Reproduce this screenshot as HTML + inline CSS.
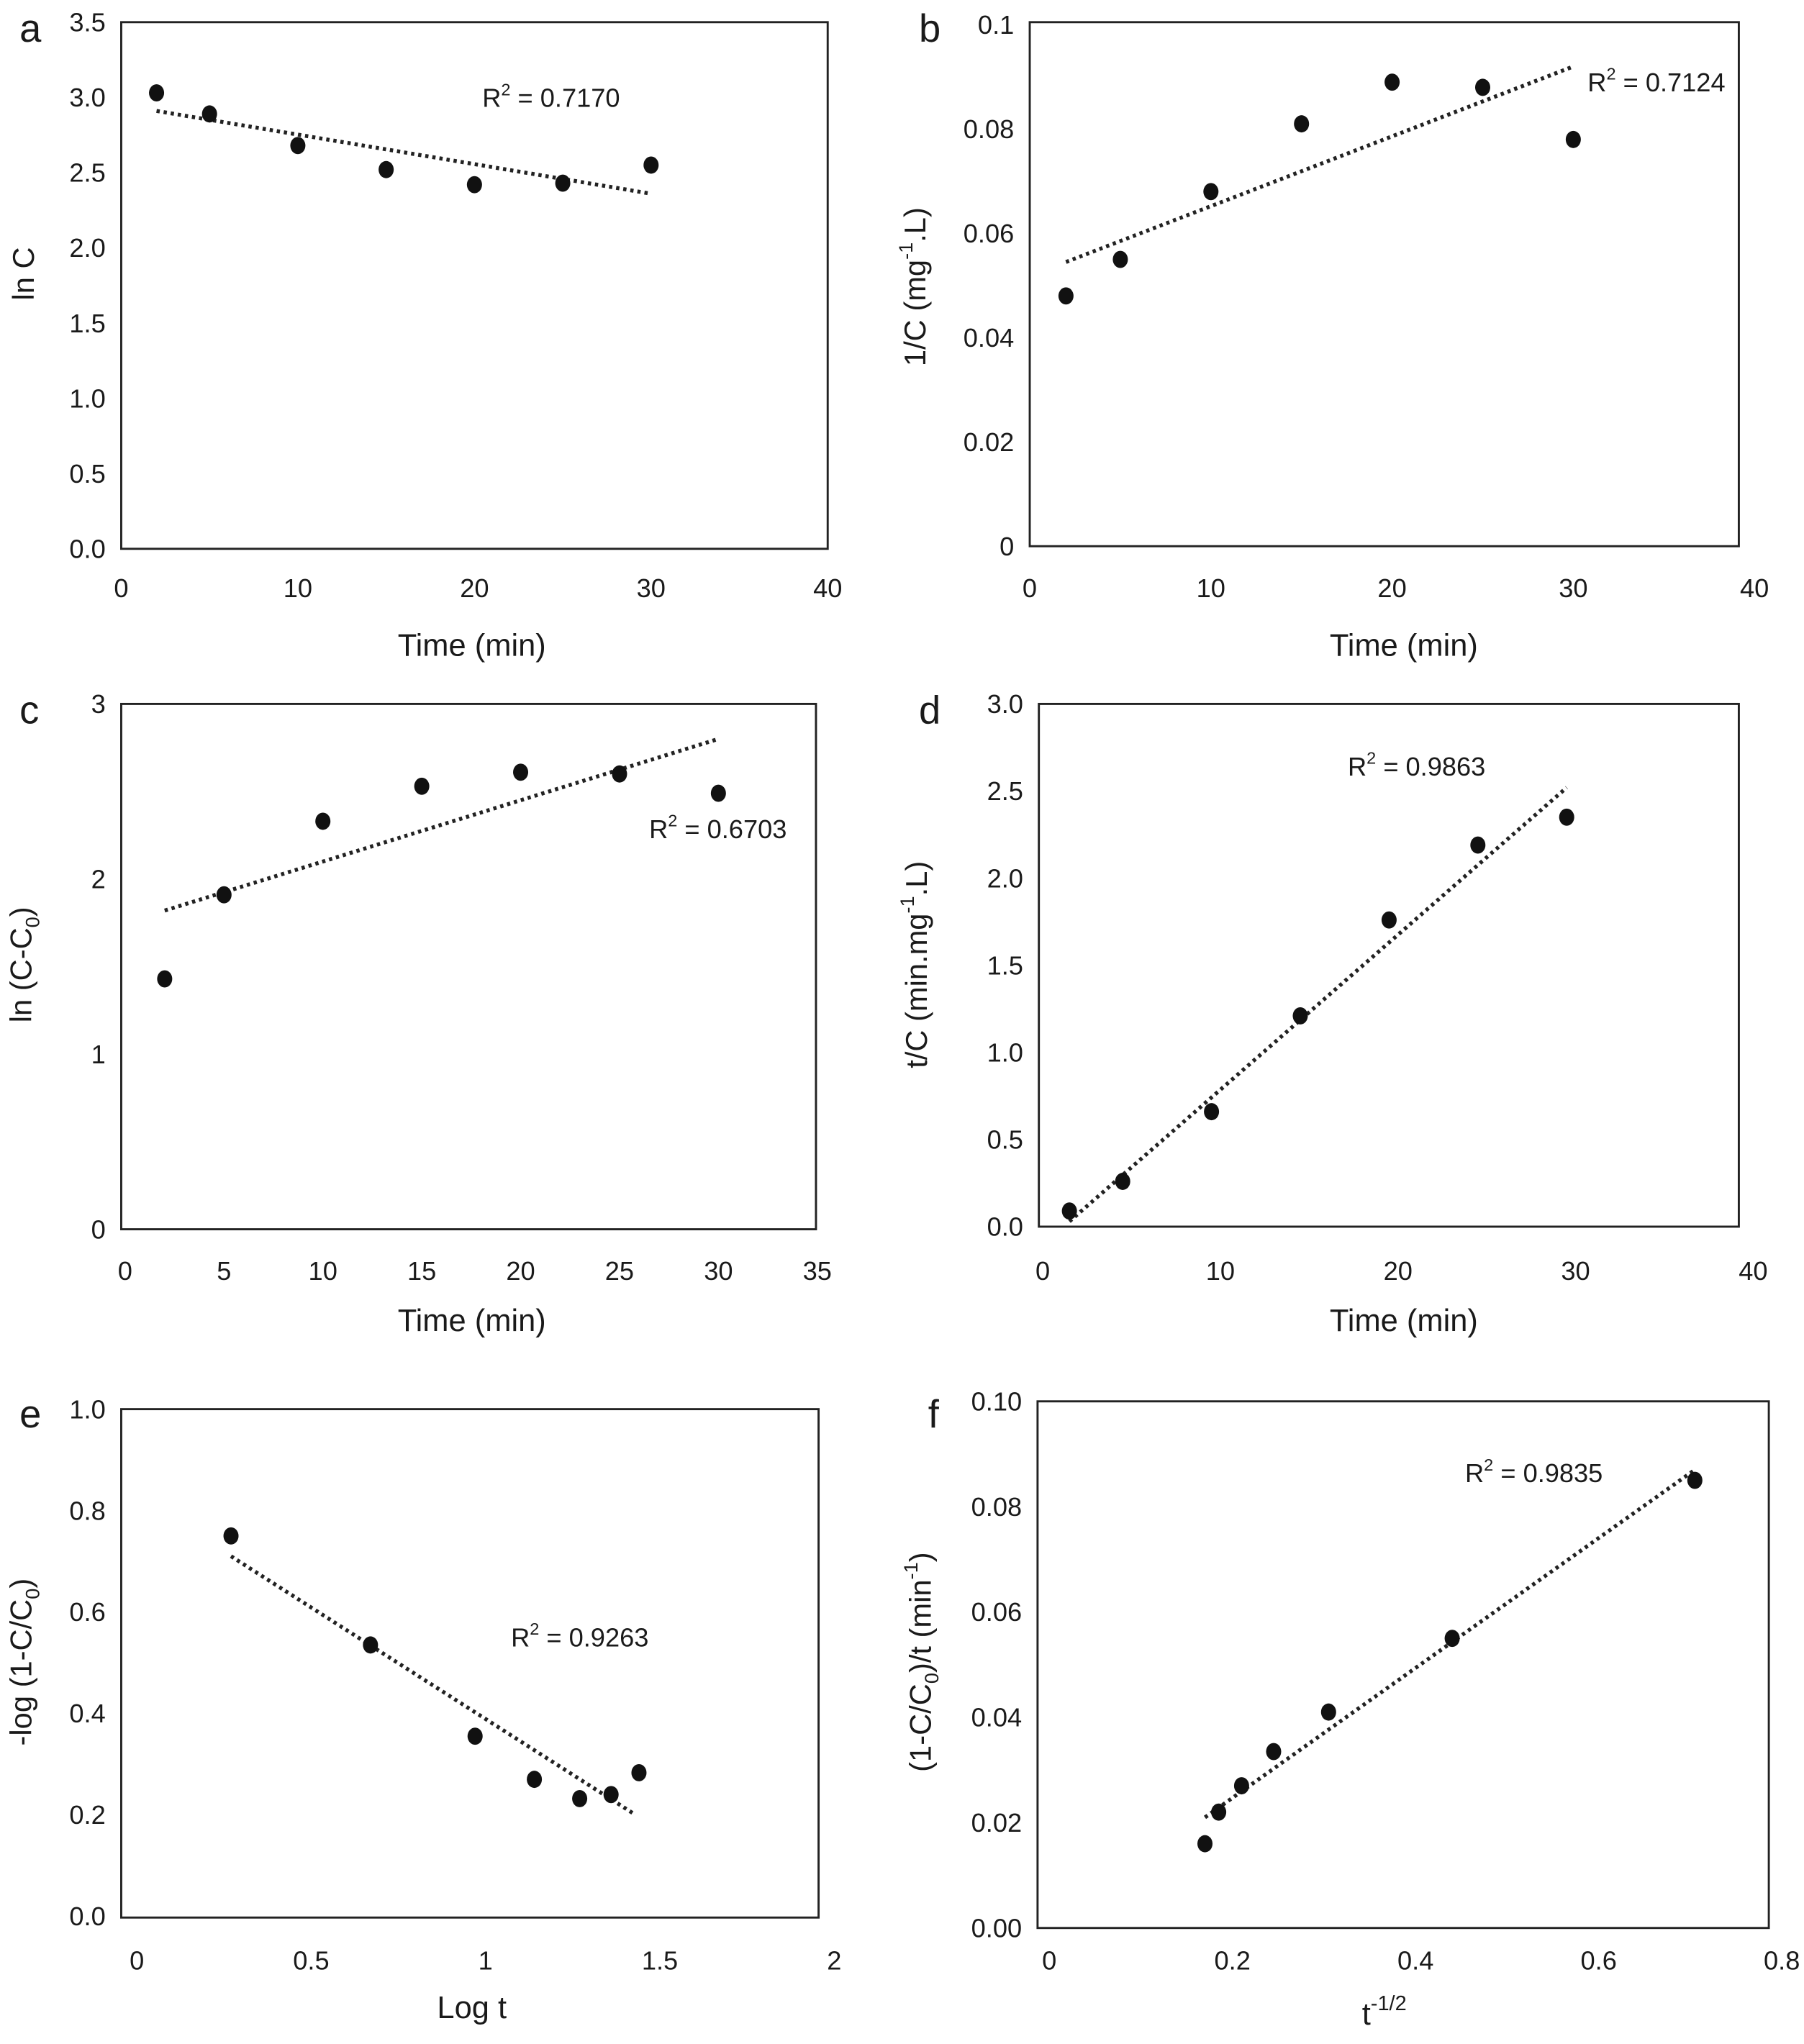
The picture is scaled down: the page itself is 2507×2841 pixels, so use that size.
<!DOCTYPE html>
<html><head><meta charset="utf-8"><style>
html,body{margin:0;padding:0;background:#fff}
svg{display:block}
text{font-family:"Liberation Sans",Arial,sans-serif;fill:#1a1a1a}
</style></head><body>
<svg id="fig" width="2507" height="2841" viewBox="0 0 1384 1568" preserveAspectRatio="none" xmlns="http://www.w3.org/2000/svg"></svg>
<script>
// Panel data (top-level arrays)
const aX=[2,5,10,15,20,25,30];
const aY=[3.03,2.89,2.68,2.52,2.42,2.43,2.55];
const aTrend=[[2,2.91],[30,2.36]];
const aXTicks=["0","10","20","30","40"];
const aYTicks=["0.0","0.5","1.0","1.5","2.0","2.5","3.0","3.5"];

const bX=[2,5,10,15,20,25,30];
const bY=[0.048,0.055,0.068,0.081,0.089,0.088,0.078];
const bTrend=[[2,0.0545],[30,0.092]];
const bXTicks=["0","10","20","30","40"];
const bYTicks=["0","0.02","0.04","0.06","0.08","0.1"];

const cX=[2,5,10,15,20,25,30];
const cY=[1.43,1.91,2.33,2.53,2.61,2.60,2.49];
const cTrend=[[2,1.82],[30,2.80]];
const cXTicks=["0","5","10","15","20","25","30","35"];
const cYTicks=["0","1","2","3"];

const dX=[1.5,4.5,9.5,14.5,19.5,24.5,29.5];
const dY=[0.09,0.26,0.66,1.21,1.76,2.19,2.35];
const dTrend=[[1.5,0.03],[29.5,2.52]];
const dXTicks=["0","10","20","30","40"];
const dYTicks=["0.0","0.5","1.0","1.5","2.0","2.5","3.0"];

const eX=[0.27,0.67,0.97,1.14,1.27,1.36,1.44];
const eY=[0.75,0.535,0.355,0.27,0.232,0.24,0.283];
const eTrend=[[0.27,0.71],[1.43,0.20]];
const eXTicks=["0","0.5","1","1.5","2"];
const eYTicks=["0.0","0.2","0.4","0.6","0.8","1.0"];

const fX=[0.17,0.185,0.21,0.245,0.305,0.44,0.705];
const fY=[0.016,0.022,0.027,0.0335,0.041,0.055,0.085];
const fTrend=[[0.17,0.021],[0.705,0.087]];
const fXTicks=["0","0.2","0.4","0.6","0.8"];
const fYTicks=["0.00","0.02","0.04","0.06","0.08","0.10"];

const NS="http://www.w3.org/2000/svg";
const svg=document.getElementById('fig');
function mk(tag,attrs,parent){const e=document.createElementNS(NS,tag);for(const k in attrs)e.setAttribute(k,attrs[k]);(parent||svg).appendChild(e);return e;}

// ytitle parts: [text, shift] shift: 0 normal, 1 subscript, -1 superscript
const panels=[
 {id:'a',letter:[15,22],box:[93,17,635,421],xm:[93,635],xd:[0,40],ym:[421,17],yd:[0,3.5],xs:aX,ys:aY,tr:aTrend,xt:aXTicks,yt:aYTicks,xly:451,xtitle:["Time (min)",362,495],ytitle:[[["ln C",0]],18,210],r2:["0.7170",370,75]},
 {id:'b',letter:[705,22],box:[790,17,1334,419],xm:[790,1346],xd:[0,40],ym:[419,19],yd:[0,0.1],xs:bX,ys:bY,tr:bTrend,xt:bXTicks,yt:bYTicks,xly:451,xtitle:["Time (min)",1077,495],ytitle:[[["1/C (mg",0],["-1",-1],[".L)",0]],702,220],r2:["0.7124",1218,63]},
 {id:'c',letter:[15,545],box:[93,540,626,943],xm:[96,627],xd:[0,35],ym:[943,540],yd:[0,3],xs:cX,ys:cY,tr:cTrend,xt:cXTicks,yt:cYTicks,xly:975,xtitle:["Time (min)",362,1013],ytitle:[[["ln (C-C",0],["0",1],[")",0]],16,740],r2:["0.6703",498,636]},
 {id:'d',letter:[705,545],box:[797,540,1334,941],xm:[800,1345],xd:[0,40],ym:[941,540],yd:[0,3],xs:dX,ys:dY,tr:dTrend,xt:dXTicks,yt:dYTicks,xly:975,xtitle:["Time (min)",1077,1013],ytitle:[[["t/C (min.mg",0],["-1",-1],[".L)",0]],703,740],r2:["0.9863",1034,588]},
 {id:'e',letter:[15,1085],box:[93,1081,628,1471],xm:[105,640],xd:[0,2],ym:[1470,1081],yd:[0,1],xs:eX,ys:eY,tr:eTrend,xt:eXTicks,yt:eYTicks,xly:1504,xtitle:["Log t",362,1540],ytitle:[[["-log (1-C/C",0],["0",1],[")",0]],16,1275],r2:["0.9263",392,1256]},
 {id:'f',letter:[712,1085],box:[796,1075,1357,1479],xm:[805,1367],xd:[0,0.8],ym:[1479,1075],yd:[0,0.1],xs:fX,ys:fY,tr:fTrend,xt:fXTicks,yt:fYTicks,xly:1504,xtitle:["t",1062,1545],ytitle:[[["(1-C/C",0],["0",1],[")/t (min",0],["-1",-1],[")",0]],706,1275],r2:["0.9835",1124,1130]}
];

panels.forEach(p=>{
 const g=mk('g',{});
 
 
 const sx=v=>p.xm[0]+(v-p.xd[0])/(p.xd[1]-p.xd[0])*(p.xm[1]-p.xm[0]);
 const sy=v=>p.ym[0]+(v-p.yd[0])/(p.yd[1]-p.yd[0])*(p.ym[1]-p.ym[0]);
 const lt=mk('text',{x:p.letter[0],y:p.letter[1]+10,'font-size':30},g);lt.textContent=p.id;
 
 
 const b=p.box;
 const r=mk('rect',{x:b[0],y:b[1],width:b[2]-b[0],height:b[3]-b[1],fill:'none',stroke:'#222','stroke-width':1.6},g);
 
 
 p.yt.forEach((t,i)=>{
  const v=p.yd[0]+i*(p.yd[1]-p.yd[0])/(p.yt.length-1);
  const tx=mk('text',{x:b[0]-12,y:sy(v)+7,'font-size':20,'text-anchor':'end'},g);tx.textContent=t;
  
  
 });
 p.xt.forEach((t,i)=>{
  const v=p.xd[0]+i*(p.xd[1]-p.xd[0])/(p.xt.length-1);
  const tx=mk('text',{x:sx(v),y:p.xly+7,'font-size':20,'text-anchor':'middle'},g);tx.textContent=t;
  
  
 });
 const xt=mk('text',{x:p.xtitle[1],y:p.xtitle[2]+8,'font-size':24,'text-anchor':'middle'},g);
 xt.textContent=p.xtitle[0];
 if(p.id==='f'){const s=mk('tspan',{dy:-11,'font-size':16},xt);s.textContent='-1/2';}
 
 
 const yt=mk('text',{transform:`translate(${p.ytitle[1]+8},${p.ytitle[2]}) rotate(-90)`,'font-size':23,'text-anchor':'middle'},g);
 let cur=0;
 p.ytitle[0].forEach(part=>{
  const target=part[1]===1?6:(part[1]===-1?-10:0);
  const sp=mk('tspan',{dy:target-cur,'font-size':part[1]===0?23:15},yt);
  sp.textContent=part[0];
  cur=target;
 });
 
 
 const tl=mk('line',{x1:sx(p.tr[0][0]),y1:sy(p.tr[0][1]),x2:sx(p.tr[1][0]),y2:sy(p.tr[1][1]),stroke:'#222','stroke-width':3,'stroke-dasharray':'2.5 3'},g);
 
 
 p.xs.forEach((x,i)=>{
  const c=mk('ellipse',{cx:sx(x),cy:sy(p.ys[i]),rx:5.8,ry:6.6,fill:'#111'},g);
  
  
 });
 const rt=mk('text',{x:p.r2[1],y:p.r2[2]+7,'font-size':20},g);
 const t1=mk('tspan',{},rt);t1.textContent='R';
 const t2=mk('tspan',{dy:-9,'font-size':13},rt);t2.textContent='2';
 const t3=mk('tspan',{dy:9},rt);t3.textContent=' = '+p.r2[0];
 
 
});
</script>
</body></html>
